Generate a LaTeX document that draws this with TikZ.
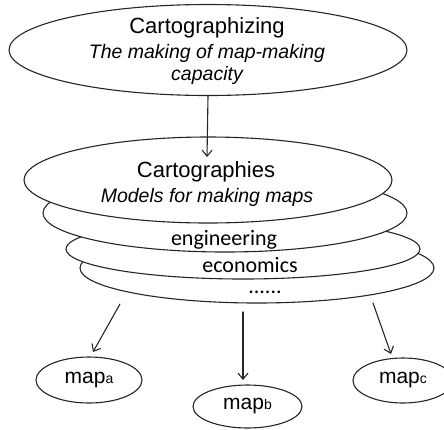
\documentclass[tikz,border=0pt]{standalone}
\usepackage{fontspec}
\setmainfont{Liberation Sans}
\newfontfamily\calibrifont{Carlito}
\usetikzlibrary{arrows.meta,shapes.geometric,positioning}
\colorlet{inkgray}{black!85}
\tikzset{>={Straight Barb[length=6pt,width=10pt]}}

\begin{document}
\begin{tikzpicture}[x=1pt, y=-1pt, line width=1.1pt,
    oval/.style={draw=inkgray, fill=white, ellipse, inner sep=0pt},
    flow/.style={->, draw=inkgray, line cap=round},
    bigtext/.style={font=\fontsize{22}{24}\selectfont, anchor=base},
    subtext/.style={font=\fontsize{19.5}{22}\selectfont\itshape, anchor=base},
    fieldtext/.style={font=\calibrifont\fontsize{22}{24}\selectfont, anchor=base},
    maptext/.style={font=\fontsize{21}{22}\selectfont}]

    \useasboundingbox (0,0) rectangle (444,429);
    \clip (0,0) rectangle (444,429);

    % Cartographizing
    \node[oval, minimum width=398pt, minimum height=91pt] (cgz) at (208,50) {};
    \node[bigtext] (cgzTitle) at (207,33) {Cartographizing};
    \node[subtext] (cgzSubA) at (207,58) {The making of map-making};
    \node[subtext] (cgzSubB) at (207,80) {capacity};

    % stack of cartographies, back to front
    \node[oval, minimum width=354pt, minimum height=70pt] (layerD) at (257,268) {};
    \node[oval, minimum width=354pt, minimum height=60pt] (layerC) at (243,249) {};
    \node[oval, minimum width=364pt, minimum height=78pt] (layerB) at (225,213) {};
    \node[oval, minimum width=368pt, minimum height=86pt] (layerA) at (208,180) {};

    \node[bigtext] (cgTitle) at (206,177) {Cartographies};
    \node[subtext] (cgSub) at (207,202) {Models for making maps};
    \node[fieldtext] (engText) at (224,245) {engineering};
    \node[fieldtext] (ecoText) at (250,272) {economics};
    \node[fieldtext] (moreText) at (265,293) {......};

    % arrow into the stack
    \coordinate (cgzTip) at (207,157);
    \draw[flow] (cgz.south) -- (cgzTip);

    % maps
    \node[oval, maptext, minimum width=106pt, minimum height=46pt] (mapA) at (89,380) {map{\fontsize{14}{14}\selectfont a}};
    \node[oval, maptext, minimum width=109pt, minimum height=43pt] (mapB) at (247.5,406.5) {map{\fontsize{14}{14}\selectfont b}};
    \node[oval, maptext, minimum width=100pt, minimum height=45pt] (mapC) at (403,380.5) {map{\fontsize{14}{14}\selectfont c}};

    \coordinate (fromA) at (120,304);
    \coordinate (toA) at (93,352);
    \coordinate (fromB) at (243,312);
    \coordinate (toB) at (243,380);
    \coordinate (fromC) at (373,303);
    \coordinate (toC) at (391,354);
    \draw[flow] (fromA) -- (toA);
    \draw[flow] (fromB) -- (toB);
    \draw[flow] (fromC) -- (toC);
\end{tikzpicture}
\end{document}
